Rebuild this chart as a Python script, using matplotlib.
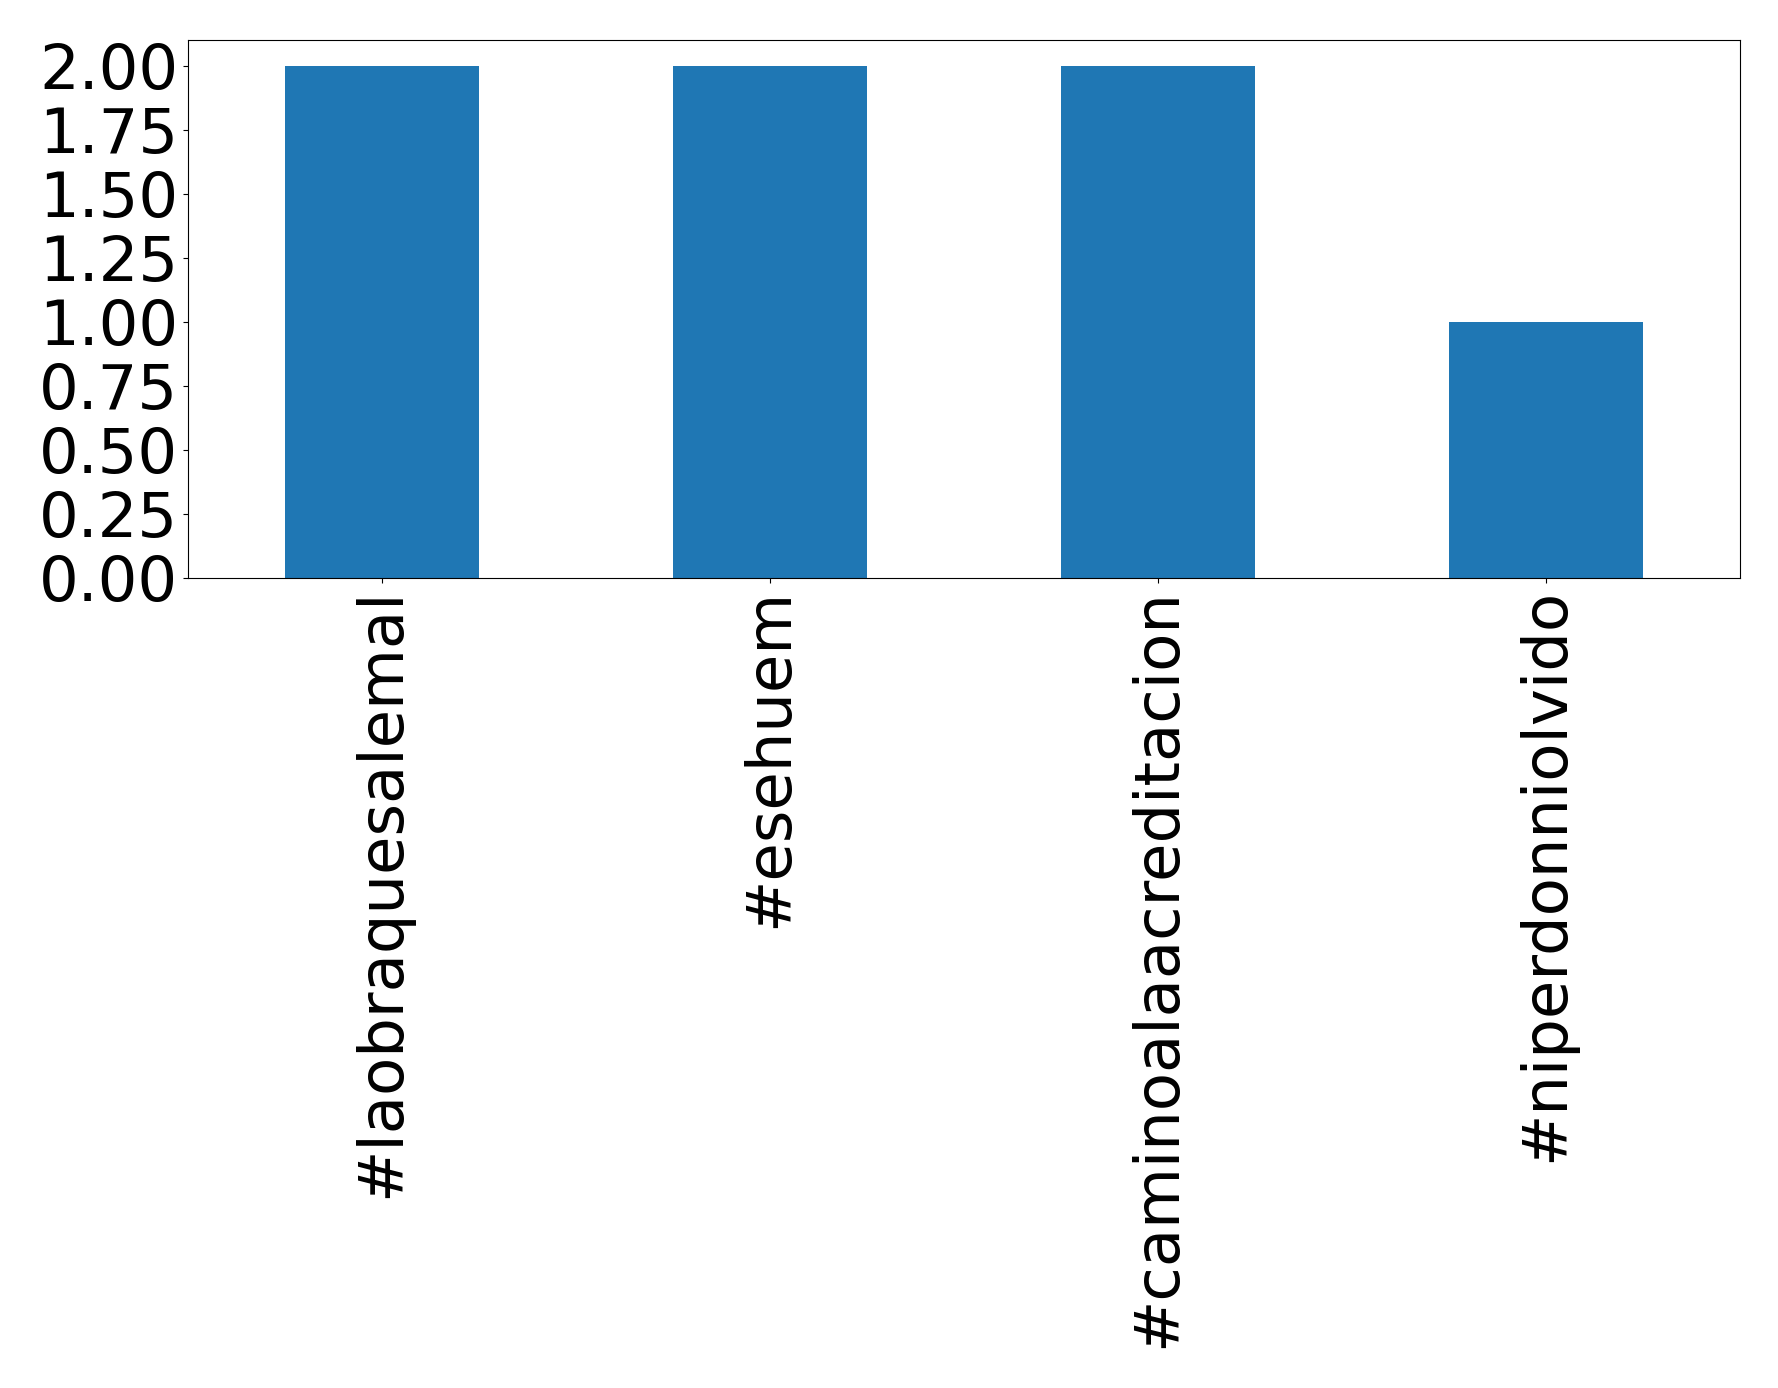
import matplotlib
matplotlib.use("Agg")
import matplotlib.pyplot as plt
import pandas as pd

# hashtag counts
hashtags = ["#laobraquesalemal", "#esehuem", "#caminoalaacreditacion", "#niperdonniolvido"]
counts = [2, 2, 2, 1]

s = pd.Series(counts, index=hashtags)

fig = plt.figure(figsize=(17.78, 13.88), dpi=100)
ax = fig.add_axes([0.1057, 0.5836, 0.8729, 0.3876])
s.plot(kind="bar", ax=ax, color="#1f77b4")
ax.set_ylim(0, 2.1)
ax.set_yticks([0, 0.25, 0.5, 0.75, 1.0, 1.25, 1.5, 1.75, 2.0])
ax.set_yticklabels(["%.2f" % v for v in ax.get_yticks()])
ax.tick_params(axis="both", labelsize=45)
ax.tick_params(axis="x", labelrotation=90)

fig.savefig("out.png", dpi=100)
